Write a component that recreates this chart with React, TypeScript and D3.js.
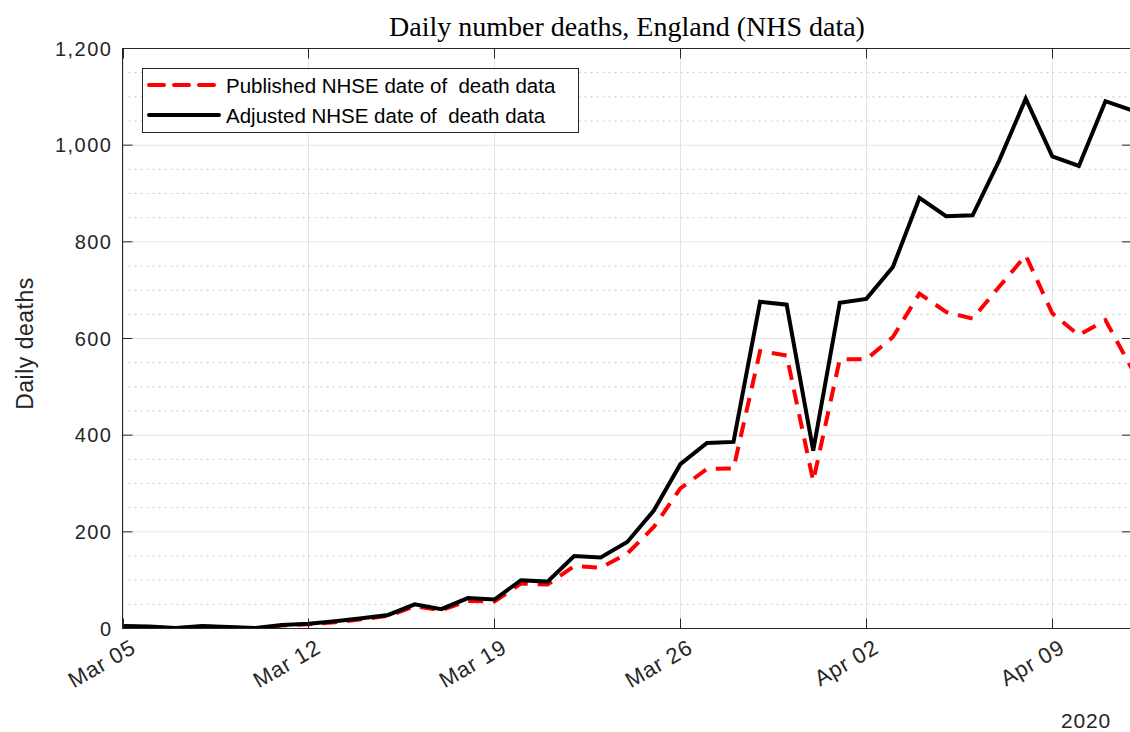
import React from "react";
import * as d3 from "d3";

const dates: string[] = [
  "2020-03-05","2020-03-06","2020-03-07","2020-03-08","2020-03-09","2020-03-10","2020-03-11",
  "2020-03-12","2020-03-13","2020-03-14","2020-03-15","2020-03-16","2020-03-17","2020-03-18",
  "2020-03-19","2020-03-20","2020-03-21","2020-03-22","2020-03-23","2020-03-24","2020-03-25",
  "2020-03-26","2020-03-27","2020-03-28","2020-03-29","2020-03-30","2020-03-31","2020-04-01",
  "2020-04-02","2020-04-03","2020-04-04","2020-04-05","2020-04-06","2020-04-07","2020-04-08",
  "2020-04-09","2020-04-10","2020-04-11","2020-04-12",
];

const adjusted: number[] = [
  5, 4, 1, 5, 3, 1, 7, 10, 15, 21, 28, 50, 40, 63, 60, 100, 97, 150, 147, 179, 244,
  340, 384, 386, 676, 670, 368, 674, 682, 748, 891, 853, 855, 968, 1096, 977, 957, 1091, 1072,
];

const published: number[] = [
  4, 3, 0, 4, 2, 0, 6, 9, 13, 19, 26, 46, 38, 57, 56, 93, 91, 129, 126, 155, 210,
  290, 330, 331, 574, 565, 305, 557, 557, 603, 693, 655, 641, 707, 772, 652, 607, 638, 537,
];

const xTickDates: string[] = ["2020-03-05", "2020-03-12", "2020-03-19", "2020-03-26", "2020-04-02", "2020-04-09"];
const yTicks: number[] = [0, 200, 400, 600, 800, 1000, 1200];
const yMinor: number[] = d3.range(0, 1201, 50).filter((v) => v % 200 !== 0);

const seriesNames = ["Published NHSE date of  death data", "Adjusted NHSE date of  death data"];

const W = 1130;
const H = 732;
const M = { left: 122.5, top: 48.5, right: 1132, bottom: 628.5 };

export default function App() {
  const parse = d3.utcParse("%Y-%m-%d");
  const x = d3
    .scaleUtc()
    .domain([parse("2020-03-05")!, parse("2020-04-12")!])
    .range([M.left, M.right]);
  const y = d3.scaleLinear().domain([0, 1200]).range([M.bottom, M.top]);
  const fmtY = d3.format(",");
  const fmtX = d3.utcFormat("%b %d");

  const pts = dates.map((d) => parse(d)!);
  const line = d3
    .line<number>()
    .x((_, i) => x(pts[i]))
    .y((v) => y(v));

  const axisColor = "#262626";
  const font = "'Liberation Sans', Arial, sans-serif";

  return (
    <svg
      width={W}
      height={H}
      style={{ position: "absolute", left: 0, top: 0, background: "#fff" }}
    >
      <defs>
        <clipPath id="plot">
          <rect x={M.left} y={M.top} width={M.right - M.left} height={M.bottom - M.top} />
        </clipPath>
      </defs>
      {/* minor grid */}
      {yMinor.map((v) => (
        <line
          key={"m" + v}
          x1={M.left}
          x2={M.right}
          y1={y(v)}
          y2={y(v)}
          stroke="#c8c8c8"
          strokeWidth={1}
          strokeDasharray="2 4"
        />
      ))}
      {/* major grid */}
      {yTicks.map((v) => (
        <line key={"g" + v} x1={M.left} x2={M.right} y1={y(v)} y2={y(v)} stroke="#e3e3e3" strokeWidth={1} />
      ))}
      {xTickDates.map((d) => {
        const xx = Math.round(x(parse(d)!)) + 0.5;
        return <line key={"gx" + d} x1={xx} x2={xx} y1={M.top} y2={M.bottom} stroke="#e3e3e3" strokeWidth={1} />;
      })}

      {/* data */}
      <g clipPath="url(#plot)">
        <path d={line(published)!} fill="none" stroke="#ff0000" strokeWidth={4} strokeDasharray="15 10" />
        <path d={line(adjusted)!} fill="none" stroke="#000" strokeWidth={4} strokeLinejoin="miter" />
      </g>

      {/* axes box */}
      <rect
        x={M.left}
        y={M.top}
        width={M.right - M.left}
        height={M.bottom - M.top}
        fill="none"
        stroke={axisColor}
        strokeWidth={1}
      />
      {/* y ticks */}
      {yTicks.map((v) => (
        <g key={"yt" + v}>
          <line x1={M.left} x2={M.left + 10} y1={y(v)} y2={y(v)} stroke={axisColor} />
          <line x1={M.right - 10} x2={M.right} y1={y(v)} y2={y(v)} stroke={axisColor} />
          <text
            x={M.left - 10}
            y={y(v)}
            dy="0.35em"
            textAnchor="end"
            fontFamily={font}
            fontSize={20}
            letterSpacing={1.5}
            fill={axisColor}
          >
            {fmtY(v)}
          </text>
        </g>
      ))}
      {/* x ticks */}
      {xTickDates.map((d) => {
        const xx = Math.round(x(parse(d)!)) + 0.5;
        return (
          <g key={"xt" + d}>
            <line x1={xx} x2={xx} y1={M.bottom} y2={M.bottom - 10} stroke={axisColor} />
            <line x1={xx} x2={xx} y1={M.top} y2={M.top + 10} stroke={axisColor} />
            <text
              transform={`translate(${xx + 6},${M.bottom + 10}) rotate(-30)`}
              textAnchor="end"
              dy="0.7em"
              fontFamily={font}
              fontSize={22}
              letterSpacing={0.8}
              fill={axisColor}
            >
              {fmtX(parse(d)!)}
            </text>
          </g>
        );
      })}
      <text x={1086} y={728} textAnchor="middle" fontFamily={font} fontSize={21} letterSpacing={0.8} fill={axisColor}>
        2020
      </text>
      <text
        transform={`translate(33,${(M.top + M.bottom) / 2 + 5}) rotate(-90)`}
        textAnchor="middle"
        fontFamily={font}
        fontSize={23}
        letterSpacing={0.5}
        fill={axisColor}
      >
        Daily deaths
      </text>
      <text
        x={627}
        y={36}
        textAnchor="middle"
        fontFamily="'Liberation Serif', 'DejaVu Serif', serif"
        fontSize={28}
        fill="#000"
      >
        Daily number deaths, England (NHS data)
      </text>

      {/* legend */}
      <rect x={142.5} y={68.5} width={436} height={64} fill="#fff" stroke={axisColor} strokeWidth={1} />
      <line x1={149} x2={219} y1={85} y2={85} stroke="#ff0000" strokeWidth={4} strokeDasharray="15 10" strokeLinecap="round" />
      <line x1={149} x2={219} y1={115} y2={115} stroke="#000" strokeWidth={4} strokeLinecap="round" />
      {seriesNames.map((n, i) => (
        <text
          key={n}
          x={226}
          y={86 + i * 30}
          dy="0.35em"
          fontFamily={font}
          fontSize={20.5}
          fill="#000"
          style={{ whiteSpace: "pre" }}
        >
          {n}
        </text>
      ))}
    </svg>
  );
}
